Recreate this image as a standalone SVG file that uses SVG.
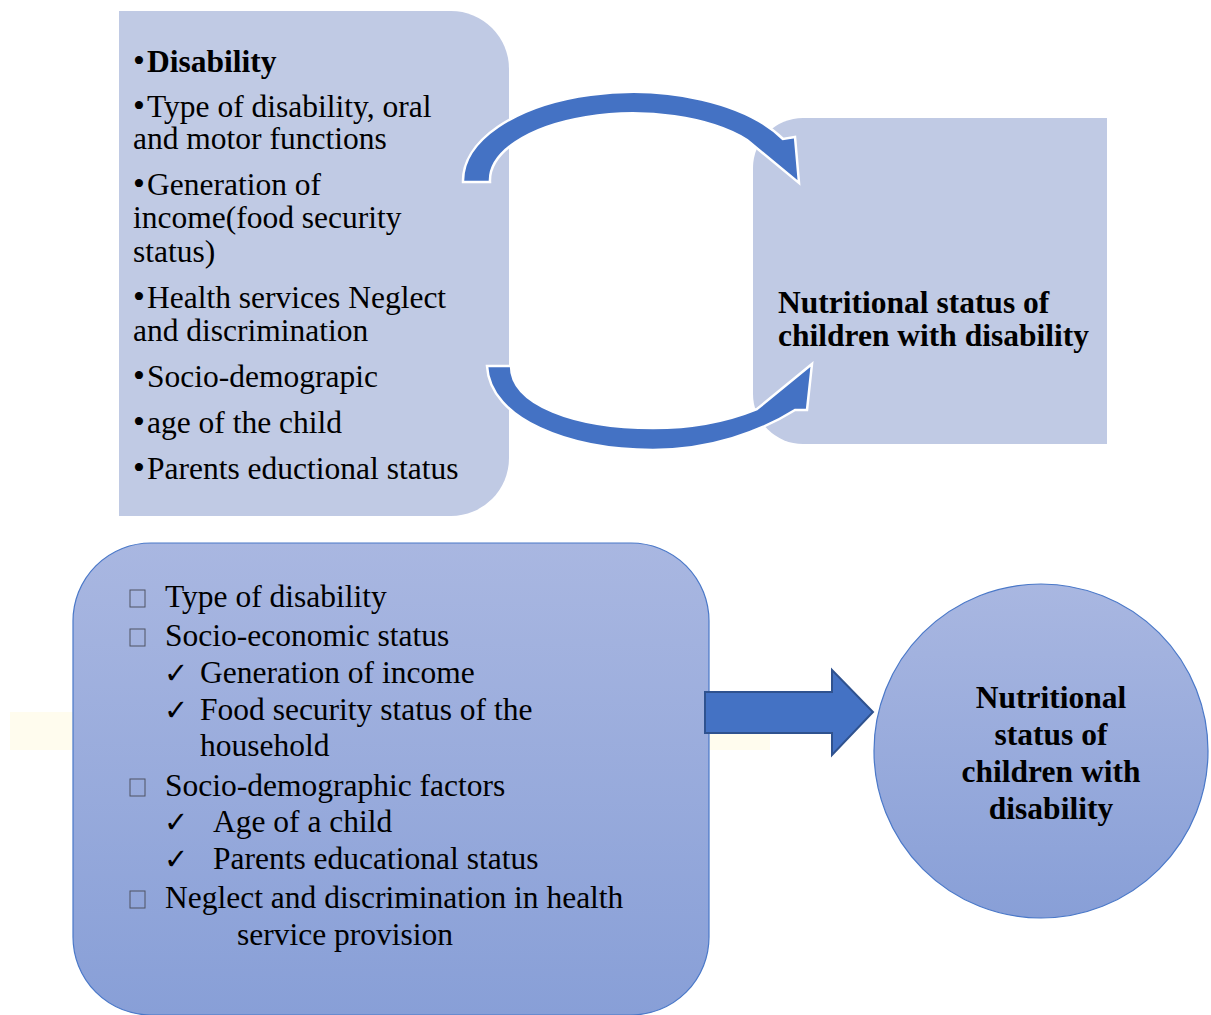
<svg xmlns="http://www.w3.org/2000/svg" width="1211" height="1015" viewBox="0 0 1211 1015">
  <style>
    .t { font-family: "Liberation Serif", "Times New Roman", serif; font-size: 31.5px; fill: #000; }
    .b { font-weight: bold; }
    .dot { font-size: 34px; }
    .chk { font-family: "DejaVu Sans", sans-serif; font-size: 29px; fill: #000; }
    .sq { fill: none; stroke: #4f5362; stroke-width: 1; }
    .pale { fill: #c0cae4; }
    .curve { fill: #4472c4; stroke: #ffffff; stroke-width: 2.5; stroke-linejoin: miter; }
  </style>
  <defs>
    <linearGradient id="blueFade" x1="0" y1="0" x2="0" y2="1">
      <stop offset="0" stop-color="#a9b7e1"/>
      <stop offset="1" stop-color="#889fd7"/>
    </linearGradient>
  </defs>
  <rect width="1211" height="1015" fill="#ffffff"/>

  <!-- faint highlight band behind the lower row -->
  <rect x="10" y="712" width="760" height="38" fill="#fffcee"/>

  <!-- upper left: list of factors -->
  <g id="factors-list">
    <path class="pale" d="M119,11 H451 A58,58 0 0 1 509,69 V458 A58,58 0 0 1 451,516 H119 Z"/>
    <g class="t">
      <text x="133" y="72"><tspan class="dot">•</tspan><tspan x="147" class="b">Disability</tspan></text>
      <text x="133" y="117"><tspan class="dot">•</tspan><tspan x="147">Type of disability, oral</tspan></text>
      <text x="133" y="149">and motor functions</text>
      <text x="133" y="195"><tspan class="dot">•</tspan><tspan x="147">Generation of</tspan></text>
      <text x="133" y="228">income(food security</text>
      <text x="133" y="262">status)</text>
      <text x="133" y="308"><tspan class="dot">•</tspan><tspan x="147">Health services Neglect</tspan></text>
      <text x="133" y="341">and discrimination</text>
      <text x="133" y="387"><tspan class="dot">•</tspan><tspan x="147">Socio-demograpic</tspan></text>
      <text x="133" y="433"><tspan class="dot">•</tspan><tspan x="147">age of the child</tspan></text>
      <text x="133" y="479"><tspan class="dot">•</tspan><tspan x="147">Parents eductional status</tspan></text>
    </g>
  </g>

  <!-- upper right: outcome box -->
  <g id="outcome-box">
    <path class="pale" d="M803,118 H1107 V444 H803 A50,50 0 0 1 753,394 V168 A50,50 0 0 1 803,118 Z"/>
    <text class="t b" x="778" y="313">Nutritional status of</text>
    <text class="t b" x="778" y="346">children with disability</text>
  </g>

  <!-- lower left: grouped factors -->
  <g id="factors-group">
    <rect x="73" y="543" width="636" height="472" rx="78" ry="78" fill="url(#blueFade)" stroke="#4a78c8" stroke-width="1.2"/>
    <rect class="sq" x="130" y="590" width="15" height="17"/>
    <text class="t" x="165" y="607">Type of disability</text>
    <rect class="sq" x="130" y="629" width="15" height="17"/>
    <text class="t" x="165" y="646">Socio-economic status</text>
    <text class="chk" x="164" y="683">✓</text>
    <text class="t" x="200" y="683">Generation of income</text>
    <text class="chk" x="164" y="720">✓</text>
    <text class="t" x="200" y="720">Food security status of the</text>
    <text class="t" x="200" y="756">household</text>
    <rect class="sq" x="130" y="779" width="15" height="17"/>
    <text class="t" x="165" y="796">Socio-demographic factors</text>
    <text class="chk" x="164" y="832">✓</text>
    <text class="t" x="213" y="832">Age of a child</text>
    <text class="chk" x="164" y="869">✓</text>
    <text class="t" x="213" y="869">Parents educational status</text>
    <rect class="sq" x="130" y="891" width="15" height="17"/>
    <text class="t" x="165" y="908">Neglect and discrimination in health</text>
    <text class="t" x="237" y="945">service provision</text>
  </g>

  <!-- lower right: outcome circle -->
  <g id="outcome-circle">
    <circle cx="1041" cy="751" r="167" fill="url(#blueFade)" stroke="#4a78c8" stroke-width="1.2"/>
    <g class="t b" text-anchor="middle">
      <text x="1051" y="708">Nutritional</text>
      <text x="1051" y="745">status of</text>
      <text x="1051" y="782">children with</text>
      <text x="1051" y="819">disability</text>
    </g>
  </g>

  <!-- connectors -->
  <g id="connectors">
    <path class="curve" d="M463,182 A170,89 0 0 1 783,139 L795,137 L799,183 L747,140 A143,67 0 0 0 490,182 Z"/>
    <path class="curve" d="M487,366 C490,420 570,450 653,450 C710,450 760,432 795,410 L807,410 L812,364 L757,409 C725,422 690,428 653,428 C575,428 511,405 511,366 Z"/>
    <path d="M705,692 H832 V670 L873,712 L832,755 V733 H705 Z" fill="#4472c4" stroke="#2f528f" stroke-width="2"/>
  </g>
</svg>
